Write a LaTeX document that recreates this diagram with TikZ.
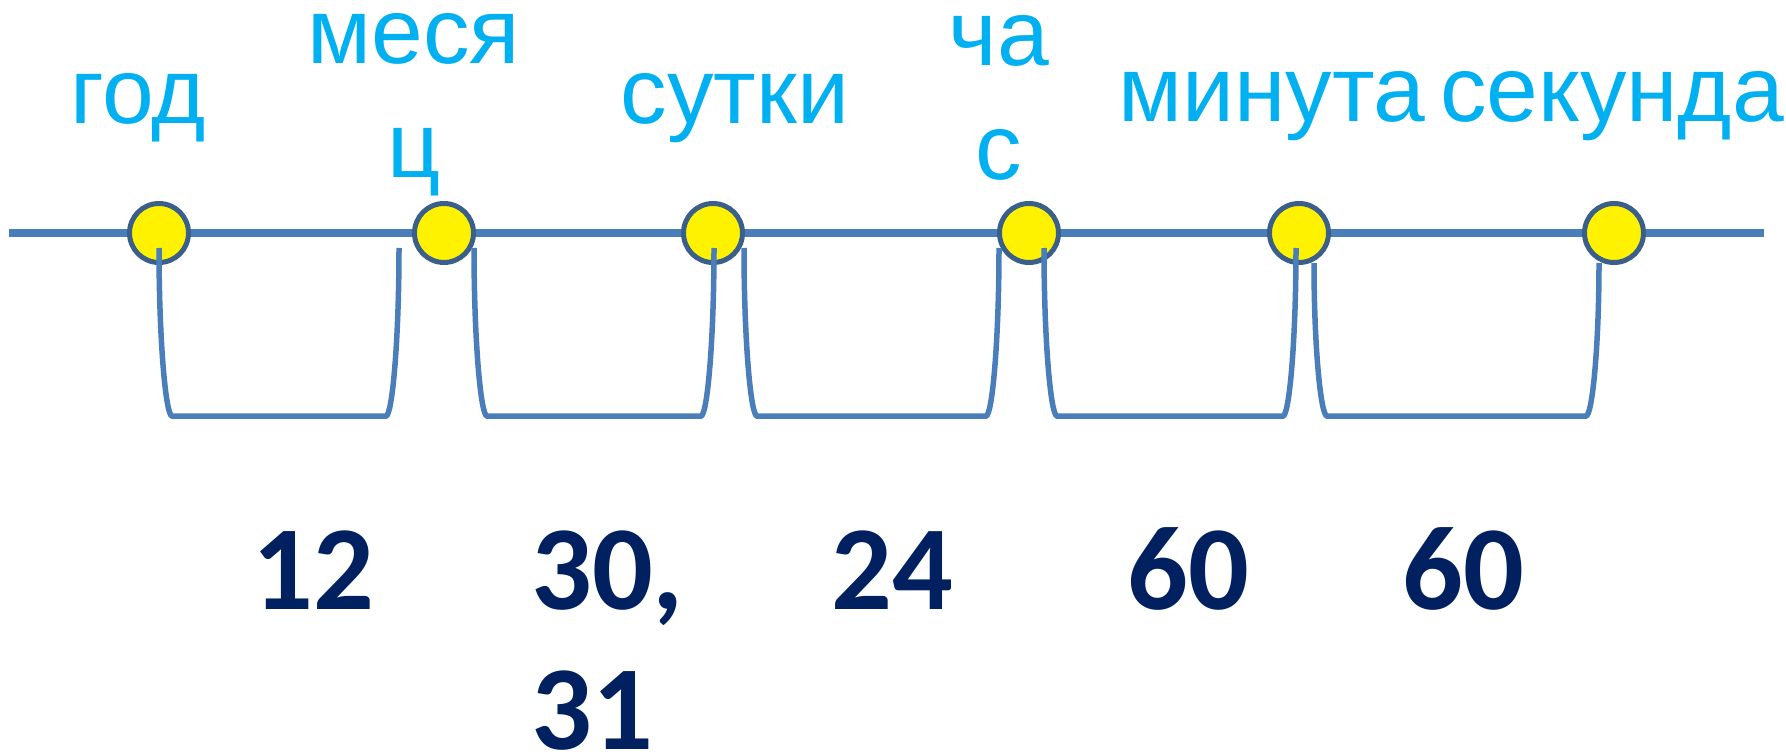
\documentclass[tikz,border=0pt]{standalone}
\usepackage{fontspec}
\setmainfont{Liberation Sans}
\newfontfamily\numfont{Carlito}
\definecolor{lineblue}{HTML}{4A7EBB}
\definecolor{ringblue}{HTML}{3A5F8B}
\definecolor{wordcyan}{HTML}{00B0F0}
\definecolor{numnavy}{HTML}{002060}

\begin{document}
\begin{tikzpicture}[x=1pt,y=-1pt,
	axis/.style={line width=8pt,color=lineblue},
	dot/.style={circle,draw=ringblue,line width=5pt,fill=yellow,minimum size=59pt,inner sep=0pt},
	brk/.style={line width=5.5pt,color=lineblue},
	word/.style={text=wordcyan,font=\fontsize{93}{110}\selectfont,inner sep=0pt,anchor=base},
	num/.style={text=numnavy,font=\numfont\bfseries\fontsize{120}{140}\selectfont,inner sep=0pt,anchor=base west}]
	\useasboundingbox (0,0) rectangle (1786,754);
	\coordinate (L) at (9,233);
	\coordinate (R) at (1764,233);
	\draw[axis] (L) -- (R);
	\node[dot] (P1) at (159,233) {};
	\node[dot] (P2) at (444,233) {};
	\node[dot] (P3) at (713,233) {};
	\node[dot] (P4) at (1029,233) {};
	\node[dot] (P5) at (1299,233) {};
	\node[dot] (P6) at (1614,233) {};
	\draw[brk] (159,248) .. controls (159,341) and (165.8,416) .. (172,416) -- (386,416) .. controls (392.2,416) and (399,341) .. (399,248);
	\draw[brk] (474,248) .. controls (474,341) and (480.8,416) .. (487,416) -- (701,416) .. controls (707.2,416) and (714,341) .. (714,248);
	\draw[brk] (744,248) .. controls (744,341) and (750.8,416) .. (757,416) -- (986,416) .. controls (992.2,416) and (999,341) .. (999,248);
	\draw[brk] (1044,248) .. controls (1044,341) and (1050.8,416) .. (1057,416) -- (1283,416) .. controls (1289.2,416) and (1296,341) .. (1296,248);
	\draw[brk] (1314,263) .. controls (1314,347.5) and (1320.8,416) .. (1327,416) -- (1586,416) .. controls (1592.2,416) and (1599,347.5) .. (1599,263);
	\node[word] (god) at (138,124) {год};
	\node[word] (mes) at (414,64) {меся};
	\node[word] (mesc) at (414,178) {ц};
	\node[word] (sut) at (735,124) {сутки};
	\node[word] (chas) at (999,66) {ча};
	\node[word] (chasc) at (999,180) {с};
	\node[word] (min) at (1272,122) {минута};
	\node[word] (sek) at (1612,122) {секунда};
	\node[num] (n1) at (252,609) {12};
	\node[num] (n2) at (531,609) {30,};
	\node[num] (n2b) at (531,749) {31};
	\node[num] (n3) at (831,609) {24};
	\node[num] (n4) at (1127,609) {60};
	\node[num] (n5) at (1402,609) {60};
\end{tikzpicture}
\end{document}
